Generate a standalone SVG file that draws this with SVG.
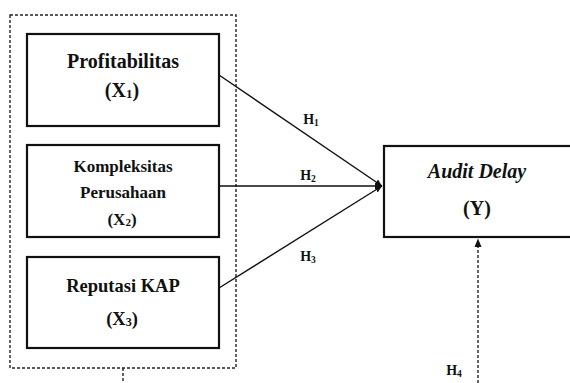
<svg xmlns="http://www.w3.org/2000/svg" width="570" height="383" viewBox="0 0 570 383">
<style>
.box{fill:#fff;stroke:#111;stroke-width:2.2}
.dash{fill:none;stroke:#222;stroke-width:1.4;stroke-dasharray:3 2}
.ln{stroke:#111;stroke-width:1.4;fill:none}
text{font-family:"Liberation Serif","Times New Roman",serif;font-weight:bold;fill:#111;text-anchor:middle}
</style>
<defs>
<marker id="ah" markerWidth="8" markerHeight="8" refX="7" refY="4" orient="auto" markerUnits="userSpaceOnUse">
<path d="M0,0.8 L7,4 L0,7.2 Z" fill="#111"/>
</marker>
</defs>
<rect width="570" height="383" fill="#fff"/>
<g id="group-x">
<rect class="dash" x="10" y="15" width="226" height="353"/>
</g>
<g id="connectors">
<line class="ln" x1="219" y1="75" x2="382" y2="186" marker-end="url(#ah)"/>
<line class="ln" x1="219" y1="186" x2="382" y2="186" stroke-width="2" marker-end="url(#ah)"/>
<line class="ln" x1="219" y1="288" x2="382" y2="186" marker-end="url(#ah)"/>
<line class="dash" x1="123" y1="368" x2="123" y2="383"/>
<line class="dash" x1="478" y1="383" x2="478" y2="246"/>
<path d="M474.5,247 L478,238.5 L481.5,247 Z" fill="#111"/>
<text x="311" y="124" font-size="14">H<tspan font-size="9.5" dy="2">1</tspan></text>
<text x="308" y="180" font-size="14">H<tspan font-size="9.5" dy="2">2</tspan></text>
<text x="308" y="261" font-size="14">H<tspan font-size="9.5" dy="2">3</tspan></text>
<text x="454" y="375" font-size="14">H<tspan font-size="9.5" dy="2">4</tspan></text>
</g>
<g id="x1">
<rect class="box" x="27" y="34" width="192" height="92"/>
<text x="123" y="68" font-size="20">Profitabilitas</text>
<text x="122" y="97" font-size="20">(X<tspan font-size="13" dy="1">1</tspan><tspan dy="-1">)</tspan></text>
</g>
<g id="x2">
<rect class="box" x="27" y="145" width="192" height="92"/>
<text x="123" y="172" font-size="17">Kompleksitas</text>
<text x="123" y="198" font-size="17">Perusahaan</text>
<text x="122" y="225" font-size="17">(X<tspan font-size="11" dy="1">2</tspan><tspan dy="-1">)</tspan></text>
</g>
<g id="x3">
<rect class="box" x="27" y="257" width="192" height="91"/>
<text x="123" y="292" font-size="18.5">Reputasi KAP</text>
<text x="122" y="325" font-size="18.5">(X<tspan font-size="12" dy="1">3</tspan><tspan dy="-1">)</tspan></text>
</g>
<g id="y">
<rect class="box" x="384" y="146" width="200" height="91"/>
<text x="477" y="178" font-size="20" font-style="italic">Audit Delay</text>
<text x="477" y="215" font-size="20">(Y)</text>
</g>
</svg>
